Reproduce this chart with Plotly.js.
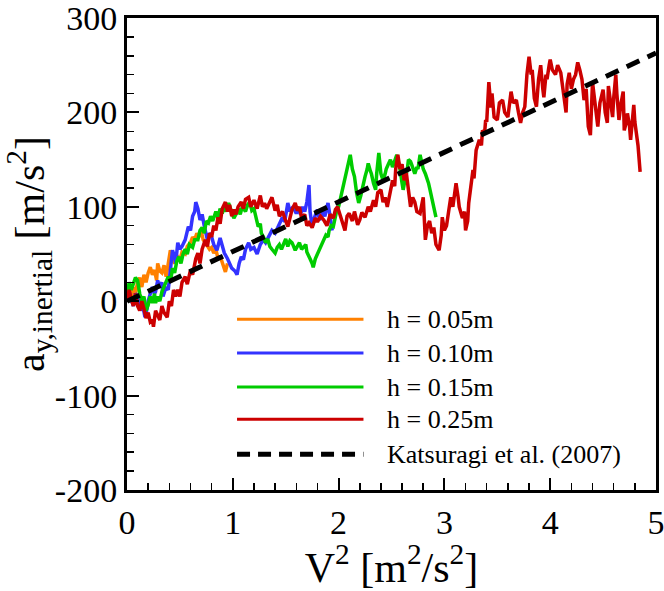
<!DOCTYPE html>
<html>
<head>
<meta charset="utf-8">
<script src="https://cdn.plot.ly/plotly-3.0.1.min.js"></script>
<style>
  body { margin: 0; background: #fff; }
  #plot { width: 664px; height: 591px; }
</style>
</head>
<body>
<div id="plot"></div>
<script>
// h = 0.05m
var x005 = [0, 0.02, 0.04, 0.06, 0.08, 0.1, 0.12, 0.14, 0.16, 0.18, 0.2, 0.22, 0.24, 0.26, 0.28, 0.29, 0.31, 0.33, 0.35, 0.37, 0.39, 0.41, 0.43, 0.45, 0.48, 0.5, 0.52, 0.55, 0.57, 0.6, 0.62, 0.64, 0.66, 0.68, 0.7, 0.72, 0.74, 0.76, 0.78, 0.8, 0.82, 0.84, 0.86, 0.88, 0.9, 0.92, 0.93, 0.95];
var y005 = [0, 10, 5, 15, 8, 20, 25, 15, 28, 20, 30, 36, 28, 33, 22, 40, 32, 30, 38, 26, 40, 54, 45, 40, 47, 44, 52, 50, 58, 62, 68, 65, 72, 68, 75, 65, 62, 58, 55, 57, 51, 55, 45, 48, 40, 33, 31, 40];

// h = 0.10m
var x010 = [0, 0.02, 0.04, 0.06, 0.08, 0.1, 0.12, 0.13, 0.15, 0.17, 0.19, 0.2, 0.22, 0.24, 0.26, 0.27, 0.29, 0.31, 0.33, 0.34, 0.36, 0.37, 0.39, 0.41, 0.43, 0.45, 0.46, 0.48, 0.5, 0.52, 0.55, 0.58, 0.6, 0.62, 0.64, 0.65, 0.67, 0.69, 0.71, 0.73, 0.76, 0.78, 0.8, 0.82, 0.85, 0.88, 0.9, 0.92, 0.95, 0.97, 0.99, 1.02, 1.04, 1.06, 1.08, 1.1, 1.12, 1.15, 1.17, 1.2, 1.23, 1.26, 1.29, 1.31, 1.34, 1.37, 1.4, 1.43, 1.47, 1.49, 1.52, 1.54, 1.57, 1.6, 1.62, 1.64, 1.66, 1.68, 1.7, 1.72, 1.73, 1.75, 1.77, 1.8, 1.82, 1.85, 1.87, 1.9, 1.92, 1.94];
var y010 = [0, 10, 2, -5, 8, 5, -5, -10, -5, -17, -8, 0, 8, 15, 8, 10, 22, 15, 20, 5, 12, 15, 12, 30, 54, 47, 40, 62, 55, 58, 65, 79, 75, 90, 95, 105, 98, 86, 92, 80, 65, 72, 68, 60, 54, 67, 58, 51, 45, 40, 35, 32, 28, 40, 47, 44, 55, 62, 55, 57, 50, 60, 65, 62, 68, 75, 72, 80, 89, 84, 104, 95, 100, 93, 97, 92, 100, 95, 105, 123, 95, 79, 88, 97, 86, 95, 90, 104, 90, 75];

// h = 0.15m
var x015 = [0, 0.02, 0.04, 0.06, 0.08, 0.1, 0.12, 0.14, 0.16, 0.18, 0.2, 0.22, 0.24, 0.26, 0.27, 0.29, 0.31, 0.33, 0.35, 0.37, 0.39, 0.41, 0.43, 0.45, 0.47, 0.49, 0.51, 0.53, 0.55, 0.57, 0.59, 0.62, 0.64, 0.67, 0.69, 0.71, 0.73, 0.75, 0.77, 0.79, 0.81, 0.84, 0.86, 0.88, 0.9, 0.92, 0.94, 0.96, 0.99, 1.01, 1.03, 1.05, 1.07, 1.09, 1.12, 1.14, 1.16, 1.18, 1.2, 1.22, 1.24, 1.26, 1.27, 1.29, 1.31, 1.33, 1.35, 1.37, 1.4, 1.42, 1.44, 1.46, 1.48, 1.5, 1.52, 1.54, 1.56, 1.58, 1.59, 1.61, 1.63, 1.65, 1.67, 1.69, 1.7, 1.72, 1.73, 1.75, 1.76, 1.78, 1.8, 1.82, 1.84, 1.86, 1.88, 1.9, 1.91, 1.93, 1.95, 1.98, 2.0, 2.02, 2.04, 2.06, 2.08, 2.1, 2.11, 2.13, 2.15, 2.17, 2.19, 2.21, 2.22, 2.24, 2.25, 2.27, 2.28, 2.3, 2.31, 2.33, 2.35, 2.36, 2.38, 2.4, 2.42, 2.44, 2.45, 2.47, 2.49, 2.51, 2.52, 2.54, 2.55, 2.57, 2.58, 2.6, 2.61, 2.63, 2.65, 2.66, 2.68, 2.69, 2.71, 2.72, 2.74, 2.75, 2.77, 2.79, 2.8, 2.82, 2.83, 2.85, 2.86, 2.88, 2.89, 2.91, 2.92];
var y015 = [5, 20, 12, 18, 25, 22, 8, 0, 5, -10, -4, 5, -2, 8, -2, 5, 0, 10, 15, 22, 26, 20, 35, 30, 42, 47, 40, 50, 55, 50, 60, 57, 65, 65, 75, 78, 72, 85, 83, 90, 85, 95, 88, 98, 93, 100, 95, 104, 95, 88, 92, 98, 92, 100, 95, 102, 105, 96, 98, 88, 79, 82, 72, 68, 62, 66, 58, 55, 51, 57, 60, 55, 62, 66, 58, 64, 62, 57, 54, 58, 62, 55, 58, 60, 52, 48, 45, 40, 36, 45, 50, 55, 60, 65, 70, 68, 75, 80, 79, 95, 100, 110, 120, 128, 140, 150, 155, 140, 132, 115, 104, 112, 118, 126, 132, 140, 146, 138, 135, 125, 118, 135, 157, 135, 128, 135, 140, 145, 150, 142, 145, 152, 155, 145, 140, 125, 118, 130, 140, 150, 148, 145, 138, 135, 142, 140, 155, 145, 140, 135, 132, 125, 120, 110, 105, 95, 89];

// h = 0.25m
var x025 = [0, 0.02, 0.04, 0.06, 0.08, 0.1, 0.12, 0.14, 0.16, 0.18, 0.2, 0.22, 0.24, 0.25, 0.27, 0.29, 0.31, 0.33, 0.35, 0.38, 0.4, 0.42, 0.44, 0.46, 0.48, 0.5, 0.52, 0.55, 0.57, 0.6, 0.62, 0.65, 0.67, 0.69, 0.71, 0.74, 0.76, 0.78, 0.8, 0.82, 0.84, 0.86, 0.88, 0.9, 0.93, 0.95, 0.97, 0.99, 1.01, 1.03, 1.05, 1.08, 1.1, 1.12, 1.15, 1.17, 1.2, 1.23, 1.26, 1.28, 1.3, 1.32, 1.35, 1.37, 1.4, 1.42, 1.44, 1.47, 1.5, 1.52, 1.54, 1.56, 1.59, 1.61, 1.63, 1.65, 1.68, 1.7, 1.72, 1.75, 1.78, 1.8, 1.83, 1.86, 1.89, 1.92, 1.95, 1.97, 1.99, 2.02, 2.04, 2.06, 2.08, 2.1, 2.13, 2.15, 2.18, 2.2, 2.22, 2.25, 2.28, 2.3, 2.33, 2.35, 2.37, 2.4, 2.42, 2.44, 2.46, 2.49, 2.51, 2.53, 2.54, 2.56, 2.58, 2.6, 2.62, 2.64, 2.66, 2.68, 2.7, 2.72, 2.74, 2.77, 2.8, 2.82, 2.84, 2.86, 2.88, 2.9, 2.92, 2.95, 2.97, 2.98, 3.0, 3.02, 3.04, 3.06, 3.08, 3.11, 3.13, 3.14, 3.17, 3.19, 3.2, 3.22, 3.23, 3.25, 3.27, 3.28, 3.3, 3.33, 3.35, 3.36, 3.38, 3.39, 3.4, 3.42, 3.44, 3.45, 3.47, 3.5, 3.52, 3.55, 3.57, 3.6, 3.63, 3.65, 3.68, 3.7, 3.72, 3.74, 3.76, 3.78, 3.8, 3.82, 3.83, 3.85, 3.87, 3.89, 3.91, 3.93, 3.94, 3.96, 3.97, 3.99, 4.0, 4.02, 4.05, 4.07, 4.1, 4.12, 4.15, 4.16, 4.18, 4.2, 4.22, 4.24, 4.26, 4.28, 4.3, 4.32, 4.34, 4.36, 4.38, 4.4, 4.42, 4.45, 4.47, 4.5, 4.52, 4.54, 4.55, 4.57, 4.59, 4.6, 4.62, 4.63, 4.65, 4.67, 4.69, 4.7, 4.72, 4.73, 4.75, 4.76, 4.78, 4.79, 4.8, 4.82, 4.83, 4.85];
var y025 = [0, 12, 2, -5, 8, -5, -10, 0, -8, -18, -12, -22, -20, -27, -10, -15, -20, -5, -12, -17, 0, -5, 12, 5, 12, 5, 20, 26, 18, 33, 28, 45, 51, 40, 55, 65, 58, 72, 68, 80, 75, 89, 82, 98, 105, 95, 102, 90, 97, 92, 100, 105, 98, 108, 110, 100, 107, 98, 112, 100, 104, 98, 106, 110, 96, 102, 90, 95, 85, 79, 88, 97, 104, 96, 100, 88, 92, 80, 83, 78, 88, 84, 90, 86, 80, 92, 88, 97, 100, 88, 80, 75, 90, 93, 85, 95, 81, 86, 94, 89, 100, 95, 107, 100, 115, 118, 105, 110, 100, 115, 128, 122, 140, 155, 140, 145, 128, 136, 120, 100, 110, 105, 95, 93, 110, 65, 80, 85, 72, 78, 60, 54, 70, 89, 75, 80, 95, 110, 100, 125, 110, 100, 88, 95, 75, 85, 104, 120, 139, 130, 160, 171, 165, 181, 178, 192, 190, 232, 205, 220, 195, 192, 210, 213, 200, 195, 222, 210, 213, 200, 189, 200, 206, 240, 259, 240, 245, 215, 206, 235, 250, 225, 216, 240, 235, 250, 256, 245, 240, 250, 242, 225, 200, 230, 242, 225, 235, 240, 253, 245, 235, 213, 225, 185, 176, 232, 215, 185, 210, 224, 200, 189, 228, 210, 195, 215, 240, 220, 192, 210, 222, 181, 190, 199, 185, 171, 195, 208, 190, 174, 165, 137];

// Katsuragi et al. (2007)
var xKat = [0, 5];
var yKat = [0, 263];

var names = ['h = 0.05m', 'h = 0.10m', 'h = 0.15m', 'h = 0.25m', 'Katsuragi et al. (2007)'];
var colors = ['#ff8000', '#3333ff', '#00cc00', '#cc0000', '#000000'];

var xTickVals = [0, 1, 2, 3, 4, 5];
var xTickText = ['0', '1', '2', '3', '4', '5'];
var yTickVals = [-200, -100, 0, 100, 200, 300];
var yTickText = ['-200', '-100', '0', '100', '200', '300'];

function buildTraces() {
    var xs = [x005, x010, x015, x025];
    var ys = [y005, y010, y015, y025];
    var data = [];
    for (var i = 0; i < xs.length; i++) {
        data.push({ x: xs[i], y: ys[i], name: names[i], mode: 'lines', type: 'scatter',
                    line: { color: colors[i], width: 3.5 }, showlegend: false });
    }
    data.push({ x: xKat, y: yKat, name: names[4], mode: 'lines', type: 'scatter',
                line: { color: colors[4], width: 5, dash: '14px,9px' }, showlegend: false });
    return data;
}

// hand-drawn legend, long line samples as in the original
function buildLegend() {
    var rows = [0.362, 0.290, 0.218, 0.150, 0.076];
    var shapes = [];
    var annotations = [];
    for (var i = 0; i < names.length; i++) {
        var dashed = (i == 4);
        shapes.push({ type: 'line', xref: 'paper', yref: 'paper', x0: 0.208, x1: 0.447, y0: rows[i], y1: rows[i],
                      line: { color: colors[i], width: dashed ? 5 : 3, dash: dashed ? '13px,8px' : 'solid' } });
        annotations.push({ xref: 'paper', yref: 'paper', x: 0.488, y: rows[i], xanchor: 'left', yanchor: 'middle',
                           text: names[i], showarrow: false,
                           font: { family: 'Liberation Serif', size: 26, color: '#000' } });
    }
    return { shapes: shapes, annotations: annotations };
}

var legend = buildLegend();

var axisCommon = {
    showgrid: false, zeroline: false, showline: true, mirror: true,
    linecolor: '#000', linewidth: 3,
    ticks: 'inside', ticklen: 12, tickwidth: 2, tickcolor: '#000',
    ticklabeloverflow: 'allow',
    tickfont: { family: 'Liberation Serif', size: 34, color: '#000' }
};

var layout = {
    width: 664, height: 591,
    margin: { l: 127, r: 8, t: 18, b: 101 },
    paper_bgcolor: '#fff', plot_bgcolor: '#fff',
    showlegend: false,
    xaxis: Object.assign({}, axisCommon, {
        range: [0, 5], tickmode: 'array', tickvals: xTickVals, ticktext: xTickText,
        minor: { dtick: 0.2, ticks: 'inside', ticklen: 7, tickwidth: 1.5, tickcolor: '#000' },
        title: { text: 'V<sup>2</sup> [m<sup>2</sup>/s<sup>2</sup>]', standoff: 6,
                 font: { family: 'Liberation Serif', size: 42, color: '#000' } }
    }),
    yaxis: Object.assign({}, axisCommon, {
        range: [-200, 300], tickmode: 'array', tickvals: yTickVals, ticktext: yTickText,
        minor: { dtick: 20, ticks: 'inside', ticklen: 7, tickwidth: 1.5, tickcolor: '#000' },
        title: { text: 'a<sub>y,inertial</sub> [m/s<sup>2</sup>]', standoff: 14,
                 font: { family: 'Liberation Serif', size: 42, color: '#000' } }
    }),
    shapes: legend.shapes,
    annotations: legend.annotations
};

Plotly.newPlot('plot', buildTraces(), layout, { staticPlot: true, displayModeBar: false });
</script>
</body>
</html>
